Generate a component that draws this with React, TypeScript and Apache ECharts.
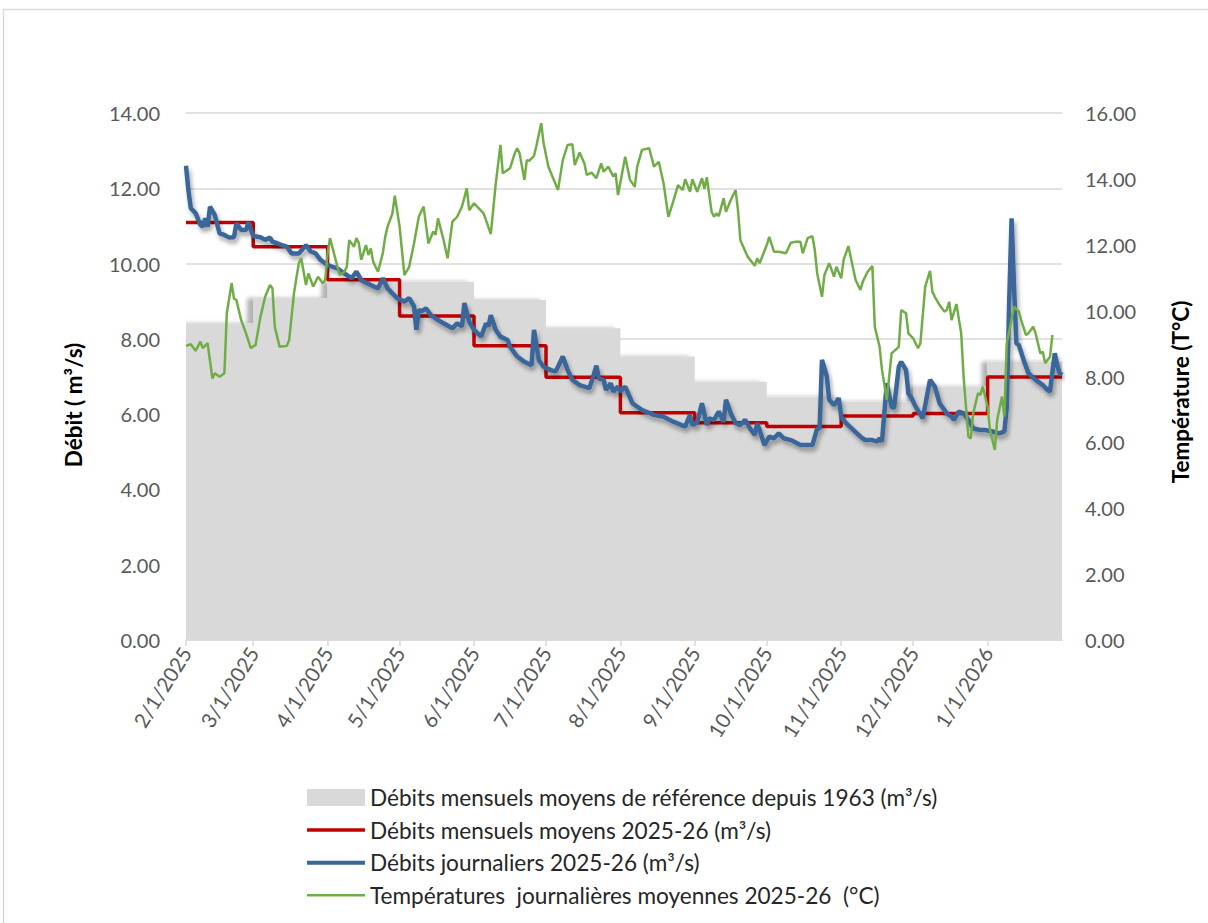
import React, { useEffect, useRef } from "react";
import * as echarts from "echarts";

const DAY = 86400000;
const START = Date.UTC(2025, 1, 1);

// month starts (tick labels) and axis end
const monthStarts = [
  "2025-02-01", "2025-03-01", "2025-04-01", "2025-05-01", "2025-06-01", "2025-07-01",
  "2025-08-01", "2025-09-01", "2025-10-01", "2025-11-01", "2025-12-01", "2026-01-01",
];
const axisEnd = "2026-02-01";

// Débits mensuels moyens de référence depuis 1963 (m³/s)
const refMonthly = [8.41, 9.08, 9.52, 9.52, 9.03, 8.28, 7.53, 6.86, 6.46, 6.33, 6.73, 7.39];
// Débits mensuels moyens 2025-26 (m³/s)
const meanMonthly = [11.09, 10.45, 9.57, 8.61, 7.82, 6.98, 6.04, 5.77, 5.67, 5.95, 6.02, 6.99];

// Débits journaliers 2025-26 : day offset from 2025-02-01, value
const flowDays = [
  0, 1, 2, 4, 6, 7, 8, 9, 10, 12, 14, 16, 18, 20, 21, 23, 25, 26, 28, 31, 33, 35, 36, 38, 40, 42, 44, 47,
  50, 52, 54, 56, 59, 63, 66, 69, 71, 73, 77, 80, 82, 84, 88, 91, 93, 95, 96, 97, 98, 100, 102, 106, 111,
  113, 115, 116, 118, 120, 123, 125, 126, 127, 129, 131, 134, 135, 138, 141, 144, 145, 147, 149, 152, 154,
  155, 157, 159, 161, 164, 168, 169, 171, 172, 174, 175, 177, 178, 180, 181, 183, 186, 190, 195, 199, 203,
  208, 210, 211, 213, 215, 217, 218, 220, 222, 224, 225, 227, 229, 231, 233, 235, 237, 238, 239, 241, 243,
  245, 247, 249, 252, 256, 261, 263, 264, 265, 267, 268, 270, 272, 273, 275, 278, 281, 283, 286, 288, 289,
  290, 292, 294, 295, 297, 298, 300, 301, 302, 304, 307, 310, 312, 314, 317, 319, 320, 322, 324, 326, 328,
  331, 333, 336, 339, 341, 342, 343, 344, 345, 346, 347, 349, 351, 354, 357, 359, 360, 362, 363, 364, 365,
];
const flowValues = [
  12.6, 11.95, 11.47, 11.34, 11.03, 10.98, 11.2, 10.98, 11.51, 11.29, 10.8, 10.76, 10.69, 10.7, 11.07, 10.89,
  10.89, 11.09, 10.73, 10.7, 10.63, 10.69, 10.58, 10.54, 10.49, 10.45, 10.27, 10.27, 10.49, 10.32, 10.27,
  10.1, 9.96, 9.87, 9.74, 9.61, 9.79, 9.56, 9.43, 9.34, 9.61, 9.34, 9.08, 8.99, 9.08, 8.86, 8.24, 8.77, 8.73,
  8.81, 8.63, 8.46, 8.28, 8.41, 8.33, 8.95, 8.46, 8.24, 8.06, 8.41, 8.33, 8.63, 8.24, 8.06, 7.97, 7.79, 7.53,
  7.39, 7.3, 8.24, 7.44, 7.26, 7.17, 7.13, 7.26, 7.53, 7.17, 6.91, 6.77, 6.69, 6.86, 7.29, 6.95, 6.91, 6.64,
  6.82, 6.6, 6.73, 6.6, 6.73, 6.29, 6.11, 5.98, 5.93, 5.8, 5.67, 5.98, 5.71, 5.78, 6.29, 5.71, 5.89, 5.85,
  6.07, 5.8, 6.38, 6.02, 5.76, 5.71, 5.85, 5.62, 5.45, 5.76, 5.58, 5.18, 5.4, 5.36, 5.49, 5.36, 5.31, 5.18,
  5.18, 5.62, 5.62, 7.44, 7.0, 6.38, 6.24, 6.42, 5.93, 5.76, 5.58, 5.4, 5.31, 5.31, 5.27, 5.36, 5.27, 6.82,
  6.2, 6.16, 7.26, 7.39, 7.17, 6.55, 6.46, 6.2, 5.89, 6.91, 6.73, 6.29, 6.02, 5.93, 5.85, 6.07, 6.02, 5.85,
  5.62, 5.58, 5.58, 5.54, 5.49, 5.54, 6.2, 9.0, 11.2, 9.4, 7.88, 7.84, 7.44, 7.09, 6.91, 6.77, 6.64, 6.6,
  7.62, 7.31, 7.09, 7.04,
];

// Températures journalières moyennes 2025-26 (°C)
const tempDays = [
  0, 2, 4, 6, 7, 9, 11, 12, 14, 16, 17, 19, 20, 21, 23, 25, 27, 29, 31, 33, 35, 36, 37, 39, 42, 43, 45, 47,
  48, 50, 51, 53, 55, 57, 58, 59, 60, 62, 64, 66, 67, 68, 70, 71, 72, 73, 75, 76, 77, 78, 80, 82, 83, 84,
  86, 87, 89, 91, 93, 95, 97, 99, 101, 103, 104, 105, 107, 109, 111, 113, 115, 117, 118, 120, 124, 125, 127,
  129, 131, 132, 135, 137, 138, 139, 141, 142, 143, 145, 146, 148, 149, 151, 155, 157, 159, 161, 162, 164,
  166, 167, 169, 171, 173, 174, 176, 178, 179, 180, 183, 185, 187, 188, 190, 193, 195, 197, 199, 201, 203,
  205, 207, 208, 210, 211, 213, 215, 216, 217, 219, 220, 221, 222, 224, 225, 227, 229, 230, 231, 234, 237,
  238, 239, 242, 243, 245, 247, 250, 252, 254, 256, 257, 259, 261, 262, 263, 265, 266, 268, 270, 271, 273,
  274, 276, 279, 281, 282, 284, 286, 287, 289, 290, 292, 294, 297, 298, 300, 301, 303, 305, 306, 308, 310,
  311, 312, 314, 316, 317, 318, 319, 321, 323, 324, 326, 327, 328, 330, 331, 332, 334, 335, 337, 338, 340,
  341, 342, 345, 347, 348, 350, 351, 353, 354, 356, 357, 358, 360, 361,
];
const tempValues = [
  8.93, 8.98, 8.78, 9.06, 8.86, 9.01, 7.94, 8.1, 7.99, 8.1, 9.92, 10.83, 10.37, 10.32, 9.71, 9.31, 8.86,
  8.96, 9.81, 10.42, 10.78, 10.68, 9.51, 8.9, 8.93, 9.11, 10.53, 11.44, 11.59, 10.78, 11.13, 10.73, 11.03,
  10.83, 10.93, 11.74, 12.2, 11.64, 11.08, 11.18, 11.33, 12.14, 11.94, 12.2, 12.05, 11.54, 11.99, 11.69,
  11.89, 11.48, 11.18, 11.74, 12.24, 12.55, 12.95, 13.49, 12.55, 11.08, 11.33, 12.04, 12.85, 13.16, 12.04,
  12.4, 12.3, 12.8, 12.24, 11.59, 12.7, 12.85, 13.16, 13.71, 13.05, 13.26, 12.95, 12.75, 12.32, 13.81, 15.03,
  14.17, 14.32, 14.78, 14.93, 14.78, 13.97, 14.57, 14.55, 14.7, 15.0, 15.69, 15.08, 14.37, 13.66, 14.57,
  15.03, 15.05, 14.42, 14.8, 14.47, 14.12, 14.19, 14.02, 14.47, 14.22, 14.37, 14.07, 14.17, 13.51, 14.67,
  13.97, 13.76, 14.37, 14.88, 14.93, 14.37, 14.52, 13.86, 12.85, 13.31, 13.81, 13.66, 13.99, 13.61, 13.99,
  13.61, 14.02, 13.7, 14.05, 13.0, 12.85, 12.95, 12.87, 13.41, 13.0, 13.36, 13.66, 13.05, 12.14, 11.64,
  11.36, 11.59, 11.44, 11.99, 12.24, 11.79, 11.79, 11.74, 12.06, 12.09, 12.09, 11.74, 12.2, 12.26, 11.84,
  11.13, 10.42, 11.08, 11.44, 11.03, 11.33, 10.98, 11.54, 11.96, 10.93, 10.63, 10.88, 11.18, 11.35, 9.51,
  8.9, 8.2, 7.29, 8.7, 8.9, 10.02, 9.92, 9.31, 9.16, 8.86, 9.01, 10.73, 11.21, 10.57, 10.42, 10.17, 9.97,
  10.02, 10.27, 9.71, 10.2, 9.31, 7.99, 6.17, 6.12, 6.88, 7.49, 7.44, 7.69, 7.08, 6.38, 5.77, 6.68, 7.39,
  6.78, 9.01, 10.12, 9.97, 9.71, 9.26, 9.31, 9.51, 9.31, 8.7, 8.75, 8.4, 8.6, 9.26,
];

const flowAxis = { min: 0, max: 14, interval: 2 };
const tempAxis = { min: 0, max: 16, interval: 2 };

const seriesNames = [
  "Débits mensuels moyens de référence depuis 1963 (m³/s)",
  "Débits mensuels moyens 2025-26 (m³/s)",
  "Débits journaliers 2025-26 (m³/s)",
  "Températures  journalières moyennes 2025-26  (°C)",
];

const FONT = "Lato, 'Open Sans', sans-serif";

export default function App() {
  const ref = useRef<HTMLDivElement>(null);
  useEffect(() => {
    document.body.style.margin = "0";
    if (!ref.current) return;
    const chart = echarts.init(ref.current, undefined, { renderer: "svg" });
    const monthTs = monthStarts.map((s) => Date.parse(s + "T00:00:00Z"));
    const endTs = Date.parse(axisEnd + "T00:00:00Z");
    const stepData = (vals: number[]) => {
      const d = vals.map((v, i) => [monthTs[i], v]);
      d.push([endTs, vals[vals.length - 1]]);
      return d;
    };
    const flow = flowDays.map((d, i) => [START + d * DAY, flowValues[i]]);
    const temp = tempDays.map((d, i) => [START + d * DAY, tempValues[i]]);
    const fmtDate = (v: number) => {
      const dt = new Date(v);
      return `${dt.getUTCMonth() + 1}/${dt.getUTCDate()}/${dt.getUTCFullYear()}`;
    };
    const labelColor = "#595959";
    const lineIcon = (t: number) => `path://M0,0H58V${t}H0Z`;
    chart.setOption({
      animation: false,
      backgroundColor: "#ffffff",
      textStyle: { fontFamily: FONT },
      grid: { left: 186, right: 146, top: 113, bottom: 283, containLabel: false },
      xAxis: {
        type: "value",
        min: monthTs[0],
        max: endTs,
        axisLine: { show: true, onZero: false, lineStyle: { color: "#d9d9d9", width: 1.5 } },
        axisTick: { show: true, customValues: monthTs, length: 6, lineStyle: { color: "#d9d9d9", width: 1.5 } },
        axisLabel: {
          customValues: monthTs,
          formatter: (v: number) => fmtDate(v),
          rotate: 58,
          margin: 9,
          color: labelColor,
          fontSize: 20.5,
          fontFamily: FONT,
        },
        splitLine: { show: false },
      },
      yAxis: [
        {
          type: "value",
          ...flowAxis,
          axisLine: { show: false },
          axisTick: { show: false },
          axisLabel: { formatter: (v: number) => v.toFixed(2), color: labelColor, fontSize: 20, margin: 26, fontFamily: FONT },
          splitLine: { show: true, lineStyle: { color: "#d9d9d9", width: 1.5 } },
        },
        {
          type: "value",
          ...tempAxis,
          position: "right",
          axisLine: { show: false },
          axisTick: { show: false },
          axisLabel: { formatter: (v: number) => v.toFixed(2), color: labelColor, fontSize: 20, margin: 23, fontFamily: FONT },
          splitLine: { show: false },
        },
      ],
      legend: {
        orient: "vertical",
        left: 307,
        top: 786,
        padding: 0,
        itemWidth: 58,
        itemHeight: 17,
        itemGap: 9.6,
        symbolKeepAspect: true,
        textStyle: { fontSize: 22.6, color: "#262626", fontFamily: FONT, lineHeight: 20 },
        data: [
          { name: seriesNames[0], icon: "rect", itemStyle: { color: "#d9d9d9" } },
          { name: seriesNames[1], icon: lineIcon(3.5), itemStyle: { color: "#c00000" } },
          { name: seriesNames[2], icon: lineIcon(4), itemStyle: { color: "#3a6699" } },
          { name: seriesNames[3], icon: lineIcon(2.5), itemStyle: { color: "#70ad47" } },
        ],
      },
      graphic: [
        {
          type: "rect",
          shape: { x: 3.5, y: 9.5, width: 1300, height: 1000 },
          style: { fill: "none", stroke: "#d9d9d9", lineWidth: 1.5 },
          silent: true,
          z: 100,
        },
        {
          type: "text",
          x: 73,
          y: 405,
          rotation: Math.PI / 2,
          style: {
            text: "Débit ( m³/s)",
            fontSize: 22.5,
            fontWeight: "bold",
            fill: "#000000",
            fontFamily: FONT,
            align: "center",
            verticalAlign: "middle",
          },
        },
        {
          type: "text",
          x: 1180,
          y: 392,
          rotation: Math.PI / 2,
          style: {
            text: "Température (T°C)",
            fontSize: 22.5,
            fontWeight: "bold",
            fill: "#000000",
            fontFamily: FONT,
            align: "center",
            verticalAlign: "middle",
          },
        },
      ],
      series: [
        {
          name: seriesNames[0],
          type: "line",
          step: "end",
          yAxisIndex: 0,
          data: stepData(refMonthly),
          symbol: "none",
          lineStyle: { width: 0, color: "#d9d9d9" },
          itemStyle: { color: "#d9d9d9" },
          areaStyle: {
            color: "#d9d9d9",
            opacity: 1,
            shadowBlur: 4,
            shadowColor: "rgba(0,0,0,0.3)",
            shadowOffsetX: -6,
            shadowOffsetY: 0,
          },
          z: 1,
        },
        {
          name: seriesNames[1],
          type: "line",
          step: "end",
          yAxisIndex: 0,
          data: stepData(meanMonthly),
          symbol: "none",
          lineStyle: { width: 3.5, color: "#c00000" },
          itemStyle: { color: "#c00000" },
          z: 2,
        },
        {
          name: seriesNames[2],
          type: "line",
          yAxisIndex: 0,
          data: flow,
          symbol: "none",
          lineStyle: {
            width: 4.5,
            color: "#3a6699",
            shadowBlur: 4,
            shadowColor: "rgba(0,0,0,0.35)",
            shadowOffsetX: 2,
            shadowOffsetY: 4,
          },
          itemStyle: { color: "#3a6699" },
          z: 3,
        },
        {
          name: seriesNames[3],
          type: "line",
          yAxisIndex: 1,
          data: temp,
          symbol: "none",
          lineStyle: { width: 2.5, color: "#70ad47" },
          itemStyle: { color: "#70ad47" },
          z: 4,
        },
      ],
    });
    return () => chart.dispose();
  }, []);
  return <div ref={ref} style={{ width: 1208, height: 923 }} />;
}
